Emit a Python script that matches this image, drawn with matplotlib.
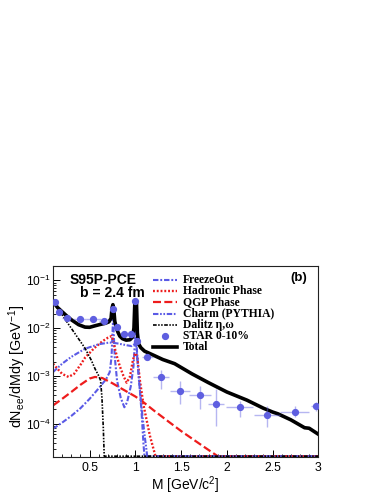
import numpy as np
import matplotlib
matplotlib.use("Agg")
import matplotlib.pyplot as plt
from matplotlib.ticker import FixedLocator, LogLocator, NullFormatter

plt.rcParams['font.family'] = ['Liberation Sans', 'DejaVu Sans']
plt.rcParams['mathtext.fontset'] = 'custom'
plt.rcParams['mathtext.rm'] = 'Liberation Sans'
plt.rcParams['mathtext.it'] = 'Liberation Sans:italic'
plt.rcParams['mathtext.bf'] = 'Liberation Sans:bold'

# ---------------- data ----------------
total_m = [0.10, 0.15, 0.20, 0.25, 0.30, 0.38, 0.45, 0.50, 0.56, 0.62, 0.67, 0.71, 0.735, 0.745,
           0.755, 0.765, 0.775, 0.79, 0.81, 0.83, 0.86, 0.90, 0.94, 0.97, 0.985, 0.995, 1.012,
           1.022, 1.035, 1.06, 1.10, 1.20, 1.30, 1.43, 1.62, 1.80, 2.00, 2.22, 2.40, 2.50, 2.56,
           2.70, 2.85, 2.90, 3.00]
total_v = [0.036, 0.027, 0.022, 0.018, 0.015, 0.0118, 0.0105, 0.0104, 0.0112, 0.012, 0.0126,
           0.0135, 0.016, 0.026, 0.031, 0.024, 0.014, 0.0105, 0.0082, 0.0068, 0.006, 0.0056,
           0.0057, 0.0065, 0.010, 0.036, 0.036, 0.008, 0.0047, 0.0039, 0.0033, 0.0027, 0.0022,
           0.0018, 0.0011, 0.00072, 0.00046, 0.00031, 0.00021, 0.000175, 0.00016, 0.00012,
           0.000082, 0.00008, 0.00006]

freeze_m = [0.10, 0.20, 0.30, 0.40, 0.50, 0.60, 0.68, 0.72, 0.74, 0.75, 0.757, 0.765, 0.775,
            0.80, 0.84, 0.88, 0.91, 0.95, 0.98, 0.995, 1.005, 1.015, 1.03, 1.05, 1.07, 1.09,
            1.10, 3.0]
freeze_v = [7.8e-5, 1.05e-4, 1.45e-4, 2.1e-4, 3.3e-4, 5.5e-4, 8.5e-4, 1.2e-3, 2.5e-3, 8e-3,
            1.6e-2, 7e-3, 2.5e-3, 8e-4, 3.5e-4, 2.2e-4, 2.8e-4, 6e-4, 1.6e-3, 5e-3, 2e-2, 4e-3,
            1.5e-3, 5e-4, 1.5e-4, 3.5e-5, 1e-6, 1e-6]

hadr_m = [0.10, 0.15, 0.20, 0.27, 0.33, 0.40, 0.45, 0.55, 0.64, 0.70, 0.74, 0.76, 0.78, 0.80,
          0.83, 0.87, 0.905, 0.94, 0.975, 1.00, 1.02, 1.05, 1.09, 1.16, 1.22, 1.25, 3.0]
hadr_v = [1.8e-3, 1.4e-3, 1.1e-3, 9.5e-4, 1.1e-3, 1.7e-3, 2.4e-3, 3.8e-3, 5.3e-3, 6.3e-3,
          6.8e-3, 5.5e-3, 3.5e-3, 2.5e-3, 1.6e-3, 1.0e-3, 7.2e-4, 9.5e-4, 2.2e-3, 3.0e-3,
          2.6e-3, 8e-4, 2.4e-4, 5.5e-5, 2e-5, 1e-6, 1e-6]

qgp_m = [0.10, 0.20, 0.30, 0.40, 0.50, 0.56, 0.64, 0.75, 0.85, 1.00, 1.07, 1.20, 1.35, 1.50,
         1.70, 1.90, 2.00, 3.0]
qgp_v = [2.4e-4, 3.3e-4, 4.6e-4, 6.5e-4, 8.8e-4, 9.5e-4, 9.0e-4, 7.0e-4, 5.4e-4, 3.7e-4,
         3.0e-4, 1.9e-4, 1.15e-4, 7e-5, 3.8e-5, 2.0e-5, 1e-6, 1e-6]

charm_m = [0.10, 0.20, 0.30, 0.45, 0.60, 0.72, 0.80, 0.90, 0.96, 0.99, 1.005, 1.02, 1.04,
           1.07, 1.10, 1.13, 1.15, 3.0]
charm_v = [1.2e-3, 1.8e-3, 2.5e-3, 3.7e-3, 4.6e-3, 5.0e-3, 4.8e-3, 4.4e-3, 4.2e-3, 4.6e-3,
           5.5e-3, 2.5e-3, 8e-4, 2e-4, 6e-5, 2e-5, 1e-6, 1e-6]

dalitz_m = [0.10, 0.15, 0.20, 0.27, 0.35, 0.45, 0.52, 0.56, 0.60, 0.62, 0.635, 0.65, 0.66, 3.0]
dalitz_v = [0.037, 0.027, 0.019, 0.012, 0.0072, 0.0038, 0.0021, 0.0014, 0.001, 8e-4, 3.5e-4,
            8e-5, 1e-6, 1e-6]

star_m = [0.12, 0.17, 0.25, 0.39, 0.54, 0.655, 0.76, 0.80, 0.875, 0.95, 0.997, 1.015, 1.13,
          1.28, 1.49, 1.71, 1.88, 2.14, 2.44, 2.74, 2.97]
star_v = [0.035, 0.022, 0.0165, 0.0155, 0.0155, 0.014, 0.025, 0.0107, 0.0076, 0.0076, 0.037,
          0.0055, 0.0025, 9.5e-4, 4.9e-4, 4.0e-4, 2.6e-4, 2.2e-4, 1.55e-4, 1.78e-4, 2.3e-4]
star_xerr = [0.02, 0.03, 0.05, 0.075, 0.08, 0.05, 0.015, 0.02, 0.04, 0.035, 0.01, 0.01, 0.06,
             0.09, 0.11, 0.12, 0.09, 0.145, 0.145, 0.155, 0.055]
star_lo = [0.032, 0.020, 0.015, 0.014, 0.014, 0.0127, 0.022, 0.0097, 0.0068, 0.0068, 0.034,
           0.0049, 0.0022, 5.4e-4, 2.6e-4, 2.0e-4, 9e-5, 1.35e-4, 8.5e-5, 1.35e-4, 1.8e-4]
star_hi = [0.038, 0.024, 0.018, 0.017, 0.017, 0.0153, 0.028, 0.0117, 0.0084, 0.0084, 0.040,
           0.0061, 0.0028, 1.32e-3, 8.0e-4, 6.2e-4, 5.4e-4, 3.0e-4, 2.3e-4, 2.3e-4, 2.9e-4]

legend_labels = ["FreezeOut", "Hadronic Phase", "QGP Phase", "Charm (PYTHIA)",
                 "Dalitz \u03b7,\u03c9", "STAR 0-10%", "Total"]

xticks = [0.5, 1.0, 1.5, 2.0, 2.5, 3.0]
xticklabels = ["0.5", "1", "1.5", "2", "2.5", "3"]
yticks = [1e-4, 1e-3, 1e-2, 1e-1]
yticklabels = [r"$\mathregular{10^{-4}}$", r"$\mathregular{10^{-3}}$",
               r"$\mathregular{10^{-2}}$", r"$\mathregular{10^{-1}}$"]

XMIN, XMAX = 0.1, 3.0
YMIN, YMAX = 2e-5, 0.2

# ---------------- styles ----------------
BLUE = '#5a5ae6'
RED = '#ee1c1c'
PTBLUE = '#5f5fe0'

styles = [
    dict(color=BLUE, lw=1.5, ls=(0, (2.6, 0.9, 0.9, 0.9))),            # FreezeOut
    dict(color=RED, lw=1.7, ls=(0, (0.8, 0.8))),                       # Hadronic
    dict(color=RED, lw=1.6, ls=(0, (3.6, 1.5))),                       # QGP
    dict(color=BLUE, lw=1.5, ls=(0, (2.6, 0.8, 0.8, 0.8, 0.8, 0.8))),  # Charm
    dict(color='black', lw=1.2, ls=(0, (2.2, 0.9, 0.9, 0.9, 0.9, 0.9))),  # Dalitz
]

fig = plt.figure(figsize=(3.83, 4.95), dpi=100)
ax = fig.add_axes([53 / 383, 38 / 495, 265.3 / 383, 191 / 495])
ax.set_yscale('log')
ax.set_xlim(XMIN, XMAX)
ax.set_ylim(YMIN, YMAX)

floor = YMIN * 1.04
series = [(freeze_m, freeze_v), (hadr_m, hadr_v), (qgp_m, qgp_v),
          (charm_m, charm_v), (dalitz_m, dalitz_v)]
for (m, v), st in zip(series, styles):
    ax.plot(m, np.maximum(np.asarray(v), floor), **st)

ax.plot(total_m, total_v, color='black', lw=2.6, solid_joinstyle='round')

yerr = [np.asarray(star_v) - np.asarray(star_lo), np.asarray(star_hi) - np.asarray(star_v)]
ax.errorbar(star_m, star_v, xerr=star_xerr, yerr=yerr, fmt='none', ecolor=PTBLUE,
            alpha=0.45, elinewidth=1.0, capsize=0, zorder=5)
ax.plot(star_m, star_v, 'o', color=PTBLUE, ms=4.2, mec=PTBLUE, zorder=6)

# axes cosmetics
ax.set_xticks(xticks)
ax.set_xticklabels(xticklabels, fontsize=8.8)
ax.xaxis.set_minor_locator(FixedLocator(np.arange(0.1, 3.001, 0.1)))
ax.set_yticks(yticks)
ax.set_yticklabels(yticklabels, fontsize=8.6)
ax.yaxis.set_minor_locator(LogLocator(base=10, subs=np.arange(2, 10)))
ax.yaxis.set_minor_formatter(NullFormatter())
ax.tick_params(which='both', direction='in', top=False, right=False)
ax.tick_params(which='major', length=5, width=0.7)
ax.tick_params(which='minor', length=2.5, width=0.6)
ax.tick_params(axis='x', pad=3.5)
ax.tick_params(axis='y', pad=2)
for s in ax.spines.values():
    s.set_linewidth(0.8)
    s.set_color('#222222')

# labels
fig.text(17 / 383, 1 - 366.5 / 495, r"dN$_{\mathregular{ee}}$/dMdy [GeV$^{\mathregular{-1}}$]",
         rotation=90, ha='center', va='center', fontsize=10.4)
fig.text(220 / 383, 1 - 485.5 / 495, r"M [GeV/c$^{\mathregular{2}}$]",
         ha='right', va='center', fontsize=10.0)

ax.text(0.064, 0.925, "S95P-PCE", transform=ax.transAxes, ha='left', va='center',
        fontsize=10.0, fontweight='bold')
ax.text(0.102, 0.857, "b = 2.4 fm", transform=ax.transAxes, ha='left', va='center',
        fontsize=10.0, fontweight='bold')
ax.text(0.925, 0.937, "(b)", transform=ax.transAxes, ha='center', va='center',
        fontsize=9.5, fontweight='bold')

# legend (manual, ROOT-like)
hx0, hx1, tx = 0.377, 0.467, 0.489
row0 = (457 - 280) / 191
dy = 11.2 / 191
for i, lab in enumerate(legend_labels):
    yy = row0 - i * dy
    if i < 5:
        ax.plot([hx0, hx1], [yy, yy], transform=ax.transAxes, clip_on=False, **styles[i])
    elif i == 5:
        ax.plot([(hx0 + hx1) / 2], [yy], 'o', color=PTBLUE, ms=4.2, transform=ax.transAxes,
                clip_on=False)
    else:
        ax.plot([hx0, hx1], [yy, yy], color='black', lw=2.6, transform=ax.transAxes,
                clip_on=False)
    ax.text(tx, yy, lab, transform=ax.transAxes, ha='left', va='center',
            fontsize=8.4, fontweight='bold', family=['Liberation Serif', 'DejaVu Serif'])

fig.savefig("out.png", dpi=100)
